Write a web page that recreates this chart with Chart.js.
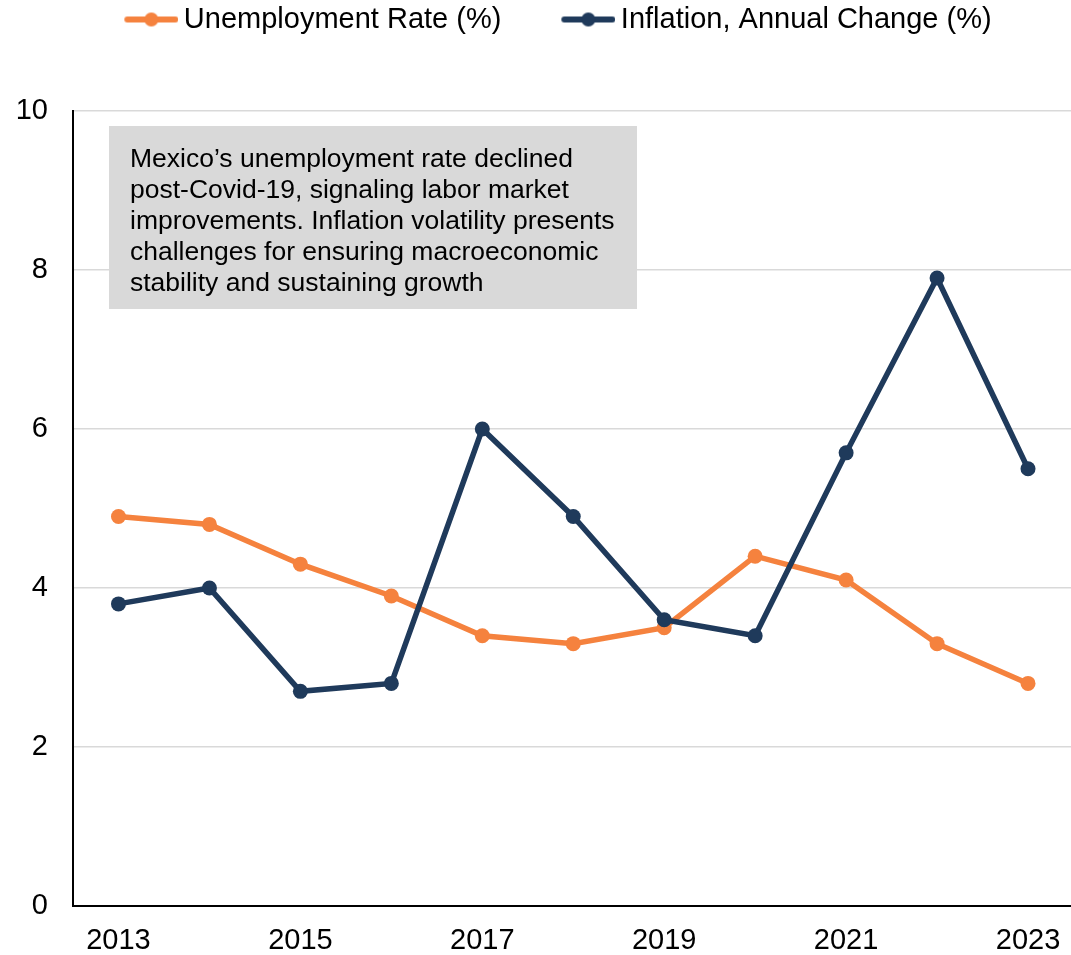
<!DOCTYPE html>
<html>
<head>
<meta charset="utf-8">
<script src="https://cdn.jsdelivr.net/npm/chart.js@4"></script>
<style>
  html, body { margin: 0; padding: 0; background: #fff; overflow: hidden; }
  #wrap { width: 1081px; height: 955px; }
</style>
</head>
<body>
<div id="wrap"><canvas id="chart"></canvas></div>
<script>
const years = ['2013', '2014', '2015', '2016', '2017', '2018', '2019', '2020', '2021', '2022', '2023'];
const unemployment = [4.9, 4.8, 4.3, 3.9, 3.4, 3.3, 3.5, 4.4, 4.1, 3.3, 2.8];
const inflation = [3.8, 4.0, 2.7, 2.8, 6.0, 4.9, 3.6, 3.4, 5.7, 7.9, 5.5];
const noteLines = [
  'Mexico\u2019s unemployment rate declined',
  'post-Covid-19, signaling labor market',
  'improvements. Inflation volatility presents',
  'challenges for ensuring macroeconomic',
  'stability and sustaining growth'
];

const orange = '#F5823E';
const navy = '#1F3A5B';
const font = 'Liberation Sans, Arial, sans-serif';

// legend icon: a bit of blank space on the left, then a short line with a dot
// box is 63 wide, text starts 14.5px after it; icon canvas is centred on the box
function legendIcon(color) {
  const c = document.createElement('canvas');
  c.width = 81;
  c.height = 20;
  const g = c.getContext('2d');
  g.strokeStyle = color;
  g.lineWidth = 6;
  g.lineCap = 'round';
  g.beginPath();
  g.moveTo(30, 10);
  g.lineTo(78, 10);
  g.stroke();
  g.fillStyle = color;
  g.beginPath();
  g.arc(54, 10, 7, 0, Math.PI * 2);
  g.fill();
  return c;
}

const padTop = -37;

const legendSpace = {
  id: 'legendSpace',
  beforeInit(chart) {
    const fit = chart.legend.fit;
    chart.legend.fit = function () {
      fit.bind(chart.legend)();
      this.height = 111 - padTop;
    };
  }
};

const noteBox = {
  id: 'noteBox',
  beforeDatasetsDraw(chart) {
    const { ctx, chartArea } = chart;
    const x = chartArea.left + 36;
    const y = chartArea.top + 15;
    ctx.save();
    ctx.fillStyle = '#D9D9D9';
    ctx.fillRect(x, y, 528, 183);
    ctx.fillStyle = '#000';
    ctx.font = '26.5px ' + font;
    ctx.textBaseline = 'alphabetic';
    noteLines.forEach((line, i) => {
      ctx.fillText(line, x + 21, y + 41 + i * 31);
    });
    ctx.restore();
  }
};

new Chart(document.getElementById('chart'), {
  type: 'line',
  data: {
    labels: years,
    datasets: [
      {
        label: 'Unemployment Rate (%)',
        data: unemployment,
        borderColor: orange,
        backgroundColor: orange,
        borderWidth: 5.5,
        pointRadius: 7.5,
        pointBorderWidth: 0,
        tension: 0,
        order: 2
      },
      {
        label: 'Inflation, Annual Change (%)',
        data: inflation,
        borderColor: navy,
        backgroundColor: navy,
        borderWidth: 5.5,
        pointRadius: 7.5,
        pointBorderWidth: 0,
        tension: 0,
        order: 1
      }
    ]
  },
  options: {
    responsive: true,
    maintainAspectRatio: false,
    animation: false,
    layout: { padding: { left: 17, top: padTop, right: 0, bottom: 0 } },
    plugins: {
      tooltip: { enabled: false },
      legend: {
        position: 'top',
        reverse: true,
        labels: {
          color: '#000',
          font: { family: font, size: 29 },
          padding: 42,
          usePointStyle: true,
          boxWidth: 63,
          pointStyleWidth: 63,
          generateLabels(chart) {
            const items = Chart.defaults.plugins.legend.labels.generateLabels(chart);
            items.forEach(item => {
              item.pointStyle = legendIcon(chart.data.datasets[item.datasetIndex].borderColor);
            });
            return items;
          }
        }
      }
    },
    scales: {
      x: {
        offset: true,
        grid: { display: false, drawTicks: false },
        border: { display: true, color: '#000', width: 2 },
        ticks: {
          autoSkip: false,
          maxRotation: 0,
          color: '#000',
          font: { family: font, size: 29 },
          padding: 18,
          callback: (v, i) => (i % 2 === 0 ? years[i] : '')
        },
        afterFit(scale) {
          scale.height = 49;
          scale.paddingLeft = 0;
          scale.paddingRight = 0;
        }
      },
      y: {
        min: 0,
        max: 10,
        grid: { color: '#D9D9D9', lineWidth: 1.5, drawTicks: false },
        border: { display: true, color: '#000', width: 2 },
        ticks: {
          stepSize: 2,
          color: '#000',
          font: { family: font, size: 29 },
          padding: 25
        },
        afterFit(scale) {
          scale.width = 56;
        }
      }
    }
  },
  plugins: [legendSpace, noteBox]
});
</script>
</body>
</html>
